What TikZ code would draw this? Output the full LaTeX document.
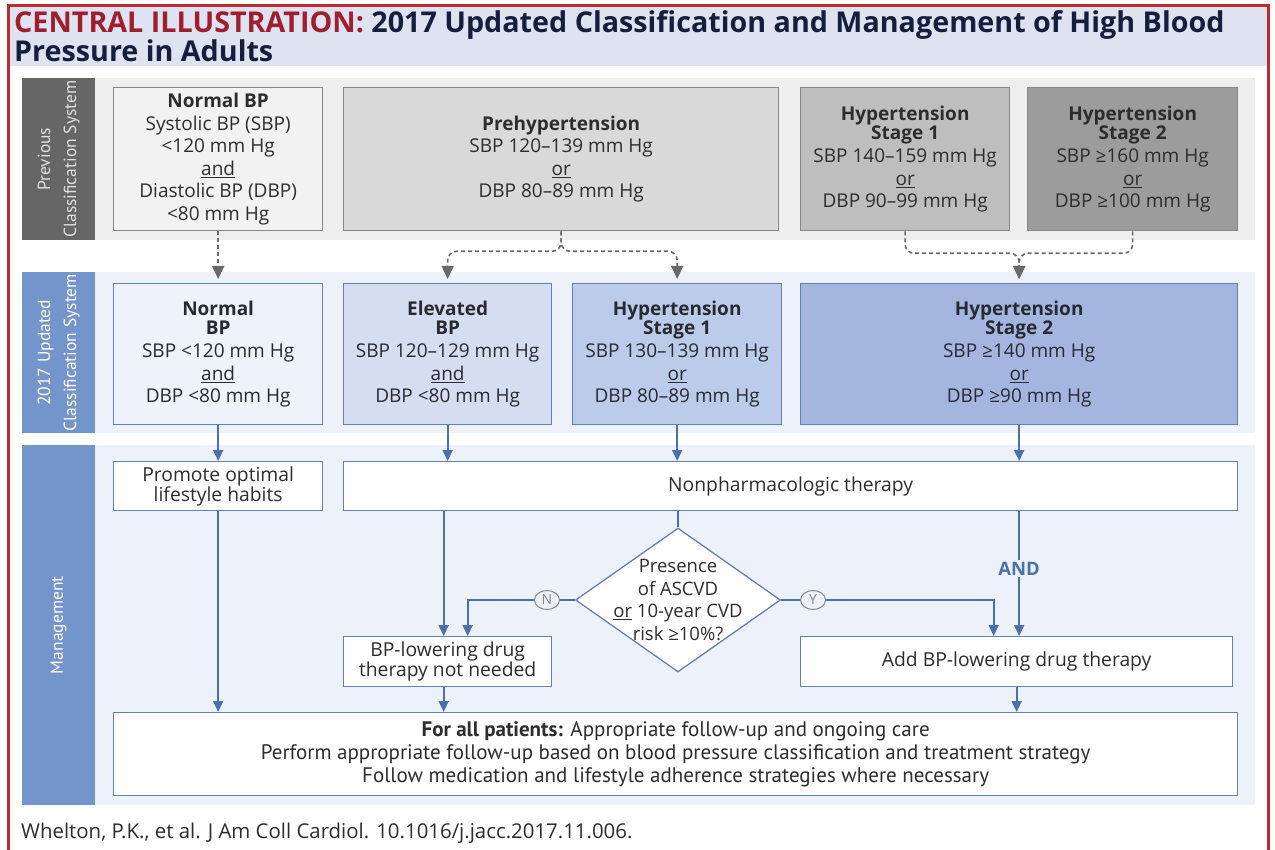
\documentclass[tikz,border=0pt]{standalone}
\usepackage{fontspec}
\setmainfont{Open Sans}
\newfontfamily\narrowfont{PT Sans}
\usepackage{tikz}
\usetikzlibrary{shapes.geometric,arrows.meta,positioning,calc}
\definecolor{bpFrame}{RGB}{190,42,48}
\definecolor{bpTitleFill}{RGB}{221,227,241}
\definecolor{bpTitleRed}{RGB}{160,30,45}
\definecolor{bpTitleNavy}{RGB}{22,30,62}
\definecolor{bpPrevBand}{RGB}{238,238,238}
\definecolor{bpPrevBar}{RGB}{102,102,102}
\definecolor{bpNewBand}{RGB}{237,241,249}
\definecolor{bpNewBar}{RGB}{116,148,204}
\definecolor{bpOldLine}{RGB}{135,135,135}
\definecolor{bpNewLine}{RGB}{100,128,180}
\definecolor{bpArrow}{RGB}{74,112,174}
\definecolor{bpDash}{RGB}{105,105,105}
\definecolor{bpText}{RGB}{45,45,45}
\definecolor{bpNewText}{RGB}{40,42,50}
\definecolor{bpOldA}{RGB}{242,242,242}
\definecolor{bpOldB}{RGB}{217,217,217}
\definecolor{bpOldC}{RGB}{190,190,190}
\definecolor{bpOldD}{RGB}{156,156,156}
\definecolor{bpNewA}{RGB}{238,242,250}
\definecolor{bpNewB}{RGB}{213,222,240}
\definecolor{bpNewC}{RGB}{188,203,233}
\definecolor{bpNewD}{RGB}{164,182,224}
\tikzset{
  titletext/.style={anchor=north west, align=left, inner sep=0pt, text=bpTitleNavy,
    font=\fontsize{28.7}{26}\selectfont\bfseries},
  bandbox/.style={rectangle, anchor=north west, inner sep=0pt, minimum width=1233},
  sidebar/.style={rectangle, anchor=north west, inner sep=0pt, minimum width=73},
  sidelabel/.style={rotate=90, align=center, inner sep=0pt,
    font=\narrowfont\fontsize{17.5}{26}\selectfont},
  oldclassbox/.style={rectangle, anchor=north west, draw=bpOldLine, line width=1.3pt,
    minimum height=143, align=center, text=bpText, inner sep=2pt},
  newclassbox/.style={rectangle, anchor=north west, draw=bpNewLine, line width=1.3pt,
    minimum height=141, align=center, text=bpNewText, inner sep=2pt},
  mgmtbox/.style={rectangle, anchor=north west, draw=bpNewLine, line width=1.3pt, fill=white,
    align=center, text=bpText, inner sep=2pt, font=\fontsize{19.3}{20}\selectfont},
  decisionbox/.style={diamond, draw=bpNewLine, line width=1.3pt, fill=white,
    minimum width=205, minimum height=144, inner sep=0pt},
  decisiontext/.style={align=center, text=bpText, inner sep=0pt, font=\fontsize{18.5}{22.5}\selectfont},
  answerbubble/.style={ellipse, draw=bpOldLine, line width=1pt, fill=bpNewBand, text=bpOldLine,
    minimum width=25, minimum height=19, inner sep=0pt, font=\fontsize{14}{14}\selectfont},
  andlabel/.style={fill=bpNewBand, text=bpArrow, inner sep=2pt, font=\fontsize{18.5}{19}\selectfont\bfseries},
  citetext/.style={anchor=west, inner sep=0pt, text=bpText, font=\fontsize{20.4}{21}\selectfont},
  flowline/.style={draw=bpArrow, line width=1.8pt},
  flowarrow/.style={-{Triangle[length=11pt,width=10pt]}, draw=bpArrow, line width=1.8pt},
  dasharrow/.style={-{Triangle[length=13pt,width=12pt]}, draw=bpDash, line width=1.6pt,
    dash pattern=on 4pt off 3pt, shorten >=4pt},
}

\begin{document}
\begin{tikzpicture}[x=1pt, y=-1pt, font=\fontsize{19}{22.6}\selectfont]
  \useasboundingbox (0,0) rectangle (1275,850);
  \fill[white] (0,0) rectangle (1275,850);

  % title band and frame
  \fill[bpTitleFill] (8,6) rectangle (1268,66);
  \draw[bpFrame, line width=3pt] (8,854) -- (8,6) -- (1268,6) -- (1268,854);
  \node[titletext] (title) at (14,10)
    {\textcolor{bpTitleRed}{CENTRAL ILLUSTRATION:} 2017 Updated Classification and Management of High Blood\\
     Pressure in Adults};

  % three bands with their side bars
  \node[bandbox, fill=bpPrevBand, minimum height=162] (prevband) at (22,78) {};
  \node[sidebar, fill=bpPrevBar, minimum height=162] (prevbar) at (22,78) {};
  \node[sidelabel, text=white!88!black] (prevlabel) at (prevbar.center) {Previous\\Classification System};

  \node[bandbox, fill=bpNewBand, minimum height=161] (newband) at (22,272) {};
  \node[sidebar, fill=bpNewBar, minimum height=161] (newbar) at (22,272) {};
  \node[sidelabel, text=white] (newlabel) at (newbar.center) {2017 Updated\\Classification System};

  \node[bandbox, fill=bpNewBand, minimum height=360] (mgmtband) at (22,445) {};
  \node[sidebar, fill=bpNewBar, minimum height=360] (mgmtbar) at (22,445) {};
  \node[sidelabel, text=white] (mgmtlabel) at (mgmtbar.center) {Management};

  % previous classification
  \node[oldclassbox, fill=bpOldA, minimum width=209] (oldnormal) at (113,87)
    {\textbf{Normal BP}\\Systolic BP (SBP)\\<120 mm Hg\\\underline{and}\\Diastolic BP (DBP)\\<80 mm Hg};
  \node[oldclassbox, fill=bpOldB, minimum width=435] (oldprehyp) at (343,87)
    {\textbf{Prehypertension}\\SBP 120–139 mm Hg\\\underline{or}\\DBP 80–89 mm Hg};
  \node[oldclassbox, fill=bpOldC, minimum width=209] (oldhtnone) at (800,87)
    {\textbf{Hypertension}\\[-3pt]\textbf{Stage 1}\\SBP 140–159 mm Hg\\\underline{or}\\DBP 90–99 mm Hg};
  \node[oldclassbox, fill=bpOldD, minimum width=210] (oldhtntwo) at (1027,87)
    {\textbf{Hypertension}\\[-3pt]\textbf{Stage 2}\\SBP ≥160 mm Hg\\\underline{or}\\DBP ≥100 mm Hg};

  % 2017 classification
  \node[newclassbox, fill=bpNewA, minimum width=209] (newnormal) at (113,283)
    {\textbf{Normal}\\[-3pt]\textbf{BP}\\SBP <120 mm Hg\\\underline{and}\\DBP <80 mm Hg};
  \node[newclassbox, fill=bpNewB, minimum width=208] (newelev) at (343,283)
    {\textbf{Elevated}\\[-3pt]\textbf{BP}\\SBP 120–129 mm Hg\\\underline{and}\\DBP <80 mm Hg};
  \node[newclassbox, fill=bpNewC, minimum width=209] (newhtnone) at (572,283)
    {\textbf{Hypertension}\\[-3pt]\textbf{Stage 1}\\SBP 130–139 mm Hg\\\underline{or}\\DBP 80–89 mm Hg};
  \node[newclassbox, fill=bpNewD, minimum width=437] (newhtntwo) at (800,283)
    {\textbf{Hypertension}\\[-3pt]\textbf{Stage 2}\\SBP ≥140 mm Hg\\\underline{or}\\DBP ≥90 mm Hg};

  % management
  \node[mgmtbox, minimum width=209, minimum height=49] (promote) at (113,461)
    {Promote optimal\\lifestyle habits};
  \node[mgmtbox, minimum width=894, minimum height=49] (nonpharm) at (343,461)
    {Nonpharmacologic therapy};
  \node[decisionbox] (ask) at (678,600) {};
  \node[decisiontext] (asktext) at (ask.center)
    {Presence\\of ASCVD\\\underline{or} 10-year CVD\\risk ≥10\%?};
  \node[answerbubble] (nobubble) at (547,600) {N};
  \node[answerbubble] (yesbubble) at (813,600) {Y};
  \node[mgmtbox, minimum width=208, minimum height=50] (notneeded) at (343,636)
    {BP-lowering drug\\therapy not needed};
  \node[mgmtbox, minimum width=432, minimum height=50] (addrx) at (800,636)
    {Add BP-lowering drug therapy};
  \node[mgmtbox, minimum width=1124, minimum height=83, font=\narrowfont\fontsize{21}{23}\selectfont] (allpat) at (113,712)
    {\textbf{For all patients:} Appropriate follow-up and ongoing care\\
     Perform appropriate follow-up based on blood pressure classification and treatment strategy\\
     Follow medication and lifestyle adherence strategies where necessary};

  \node[citetext] (cite) at (21,833) {Whelton, P.K., et al. J Am Coll Cardiol. 10.1016/j.jacc.2017.11.006.};

  % old to new
  \draw[dasharrow] (oldnormal.south) -- (newnormal.north);
  \draw[dasharrow, rounded corners=9pt] (oldprehyp.south) -- ++(0,20) -| (newelev.north);
  \draw[dasharrow, rounded corners=9pt] (oldprehyp.south) -- ++(0,20) -| (newhtnone.north);
  \draw[dasharrow, rounded corners=9pt] (oldhtnone.south) -- ++(0,22) -| (newhtntwo.north);
  \draw[dasharrow, rounded corners=9pt] (oldhtntwo.south) -- ++(0,22) -| (newhtntwo.north);

  % new to management
  \draw[flowarrow] (newnormal.south) -- (promote.north);
  \draw[flowarrow] (newelev.south) -- (newelev.south |- nonpharm.north);
  \draw[flowarrow] (newhtnone.south) -- (newhtnone.south |- nonpharm.north);
  \draw[flowarrow] (newhtntwo.south) -- (newhtntwo.south |- nonpharm.north);

  % treatment flow
  \draw[flowarrow] ([xshift=-4]notneeded.north |- nonpharm.south) -- ([xshift=-4]notneeded.north);
  \draw[flowline] (ask.north |- nonpharm.south) -- (ask.north);
  \draw[flowline] (ask.west) -- (nobubble.east);
  \draw[flowarrow] (nobubble.west) -| ([xshift=20]notneeded.north);
  \draw[flowline] (ask.east) -- (yesbubble.west);
  \draw[flowarrow] (yesbubble.east) -| ([xshift=-23]addrx.north);
  \draw[flowarrow] (newhtntwo.south |- nonpharm.south) -- node[andlabel, pos=0.46] (andtag) {AND} (newhtntwo.south |- addrx.north);

  % to follow-up
  \draw[flowarrow] (promote.south) -- (promote.south |- allpat.north);
  \draw[flowarrow] ([xshift=-4]notneeded.south) -- ([xshift=-4]notneeded.south |- allpat.north);
  \draw[flowarrow] (addrx.south) -- (addrx.south |- allpat.north);
\end{tikzpicture}
\end{document}
